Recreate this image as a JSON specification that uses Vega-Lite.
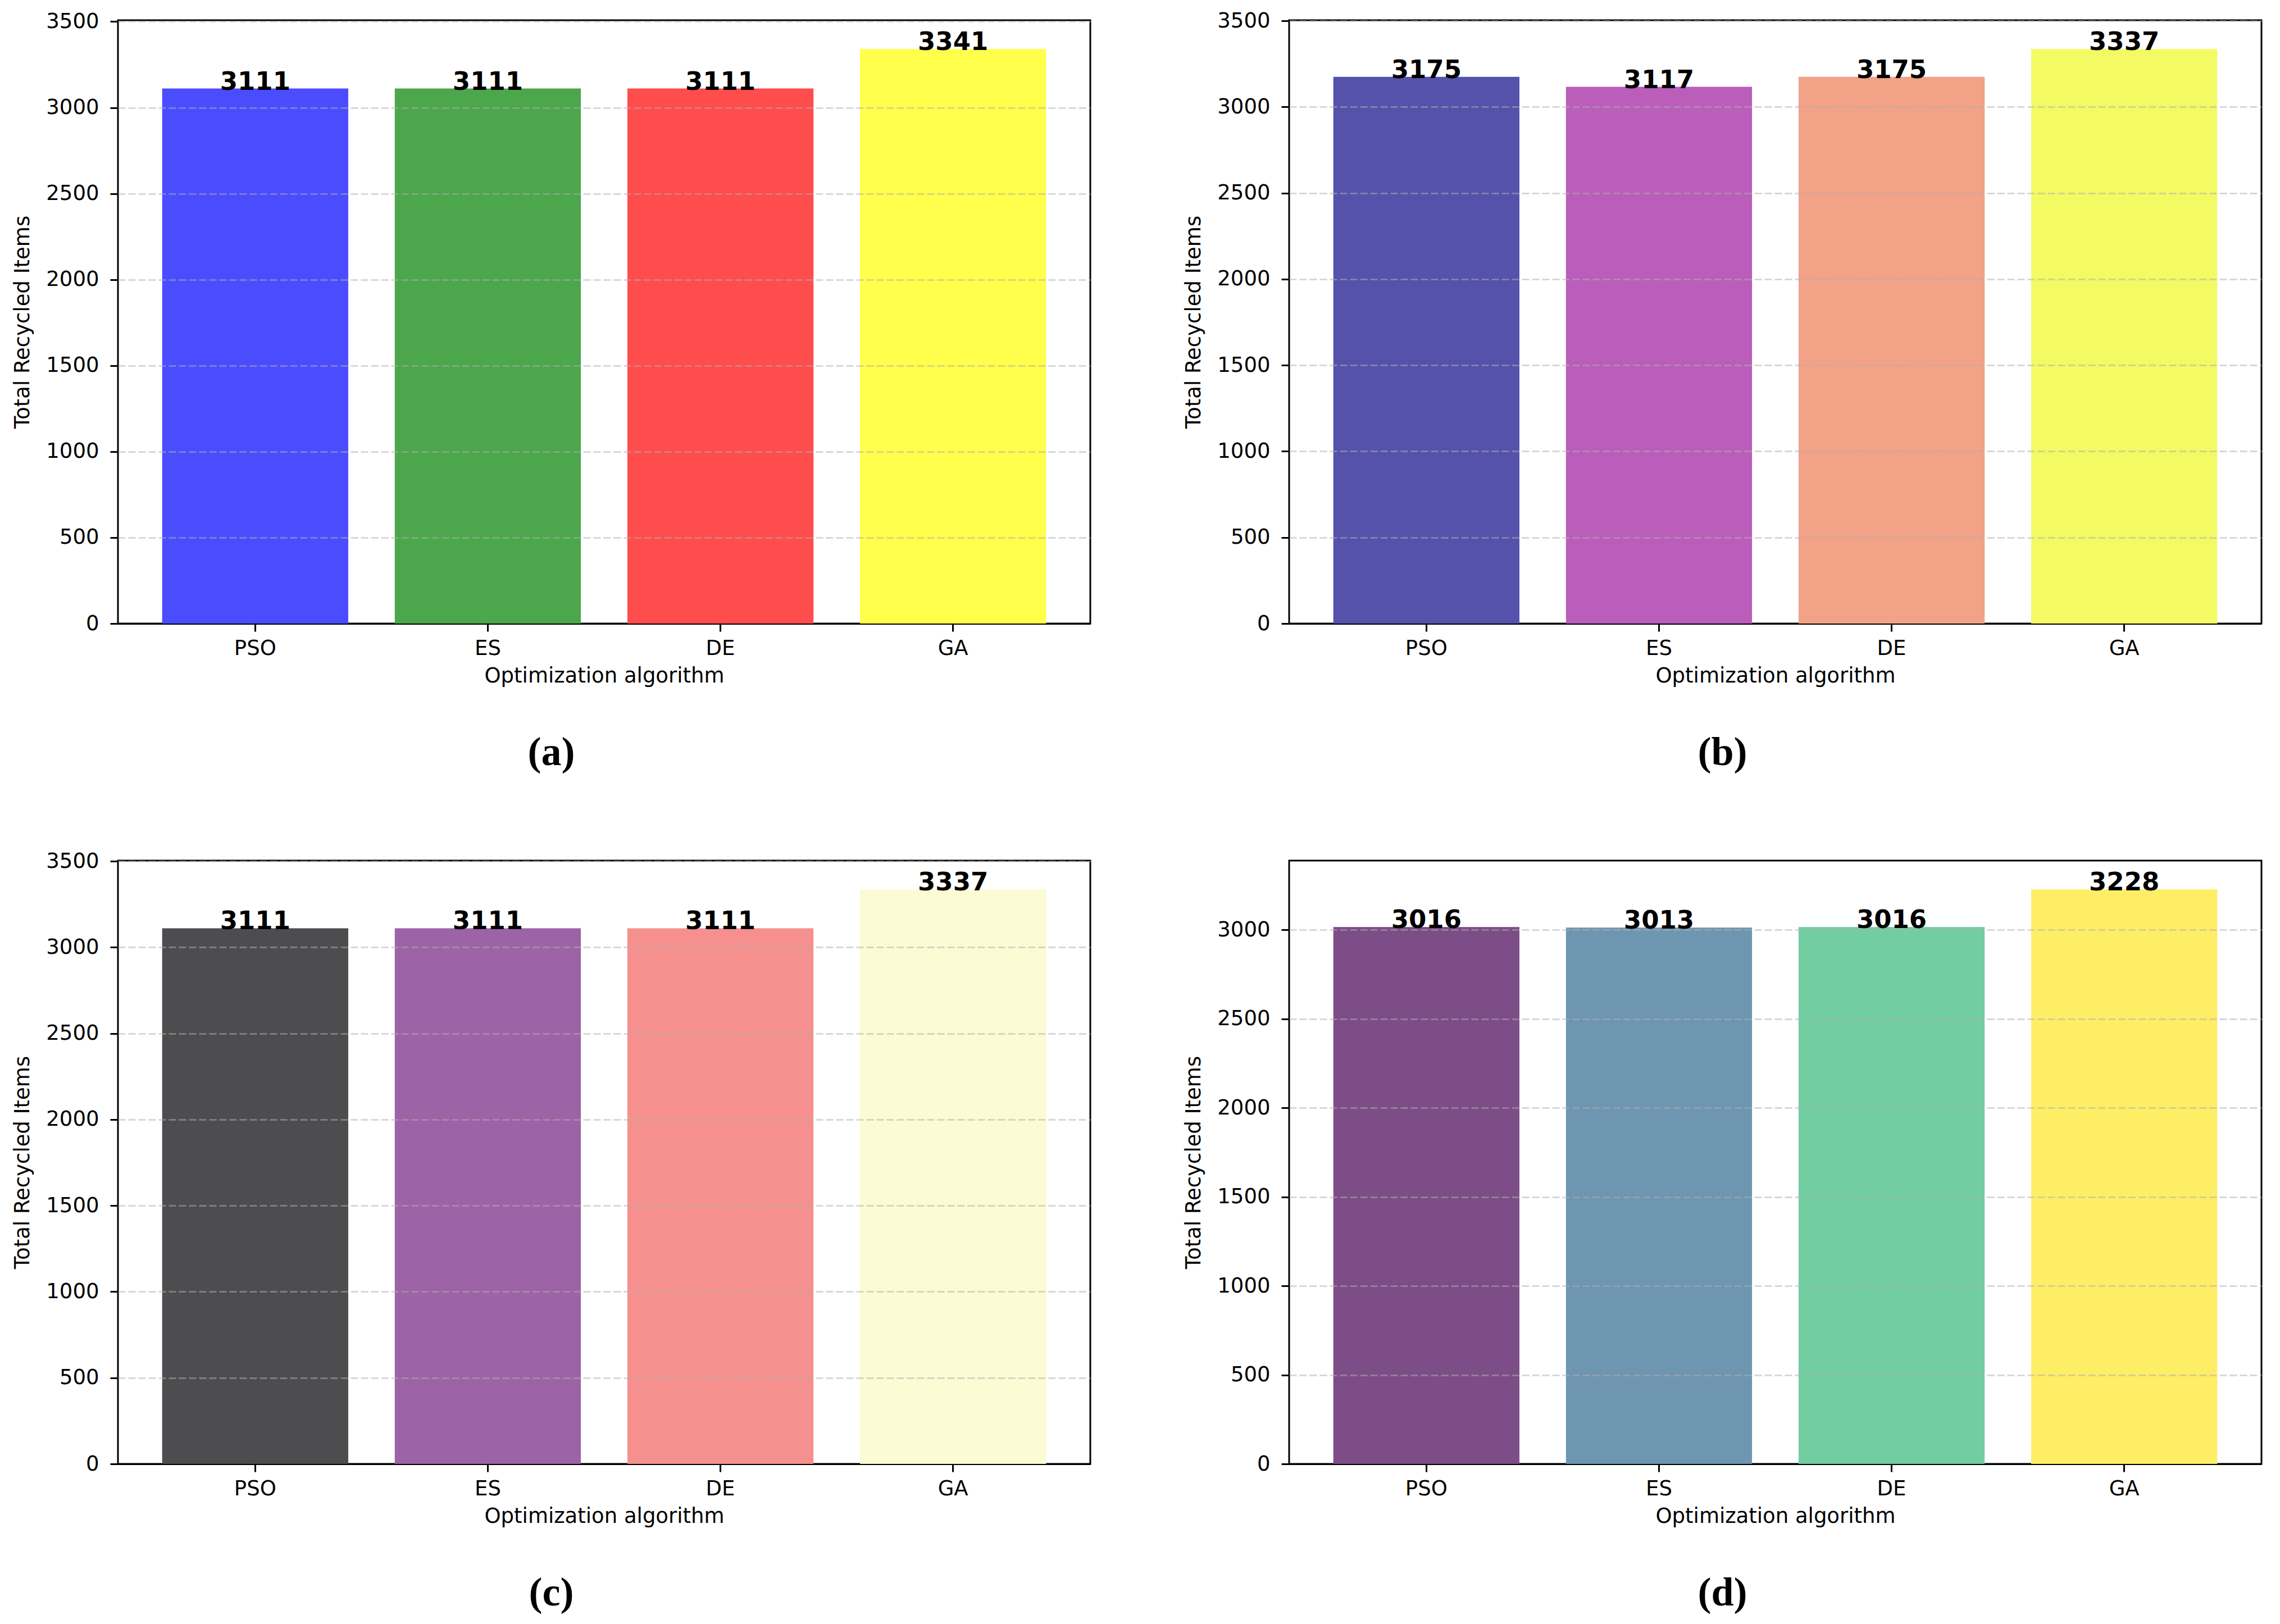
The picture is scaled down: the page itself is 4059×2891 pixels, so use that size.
{
  "$schema": "https://vega.github.io/schema/vega-lite/v6.json",
  "padding": {"left": 20, "top": 16, "right": 20, "bottom": 10},
  "background": "white",
  "datasets": {
    "a": [
      {"algorithm": "PSO", "total": 3111},
      {"algorithm": "ES", "total": 3111},
      {"algorithm": "DE", "total": 3111},
      {"algorithm": "GA", "total": 3341}
    ],
    "b": [
      {"algorithm": "PSO", "total": 3175},
      {"algorithm": "ES", "total": 3117},
      {"algorithm": "DE", "total": 3175},
      {"algorithm": "GA", "total": 3337}
    ],
    "c": [
      {"algorithm": "PSO", "total": 3111},
      {"algorithm": "ES", "total": 3111},
      {"algorithm": "DE", "total": 3111},
      {"algorithm": "GA", "total": 3337}
    ],
    "d": [
      {"algorithm": "PSO", "total": 3016},
      {"algorithm": "ES", "total": 3013},
      {"algorithm": "DE", "total": 3016},
      {"algorithm": "GA", "total": 3228}
    ]
  },
  "columns": 2,
  "bounds": "flush",
  "spacing": {"row": 422, "column": 354},
  "resolve": {"scale": {"x": "independent", "y": "independent", "color": "independent"}},
  "concat": [
    {
      "title": {"text": "(a)", "orient": "bottom", "frame": "bounds", "offset": 84},
      "width": 1731,
      "height": 1074,
      "data": {"name": "a"},
      "encoding": {
        "x": {"field": "algorithm", "type": "nominal", "sort": null,
              "scale": {"paddingInner": 0.2, "paddingOuter": 0.19},
              "axis": {"title": "Optimization algorithm", "labelAngle": 0}},
        "y": {"field": "total", "type": "quantitative",
              "scale": {"domain": [0, 3508.05], "nice": false, "zero": true},
              "axis": {"title": "Total Recycled Items", "format": "d", "values": [0, 500, 1000, 1500, 2000, 2500, 3000, 3500], "grid": true, "zindex": 1}}
      },
      "layer": [
        {"mark": {"type": "bar"},
         "encoding": {"color": {"field": "algorithm", "type": "nominal", "sort": null, "legend": null,
           "scale": {"domain": ["PSO", "ES", "DE", "GA"], "range": ["#4c4cff", "#4ca64c", "#ff4c4c", "#ffff4c"]}}}},
        {"mark": {"type": "text", "baseline": "alphabetic", "dy": 2, "fontSize": 45, "fontWeight": "bold", "font": "DejaVu Sans", "color": "black"},
         "encoding": {"text": {"field": "total", "type": "quantitative", "format": "d"}}}
      ]
    },
    {
      "title": {"text": "(b)", "orient": "bottom", "frame": "bounds", "offset": 84},
      "width": 1731,
      "height": 1074,
      "data": {"name": "b"},
      "encoding": {
        "x": {"field": "algorithm", "type": "nominal", "sort": null,
              "scale": {"paddingInner": 0.2, "paddingOuter": 0.19},
              "axis": {"title": "Optimization algorithm", "labelAngle": 0}},
        "y": {"field": "total", "type": "quantitative",
              "scale": {"domain": [0, 3503.85], "nice": false, "zero": true},
              "axis": {"title": "Total Recycled Items", "format": "d", "values": [0, 500, 1000, 1500, 2000, 2500, 3000, 3500], "grid": true, "zindex": 1}}
      },
      "layer": [
        {"mark": {"type": "bar"},
         "encoding": {"color": {"field": "algorithm", "type": "nominal", "sort": null, "legend": null,
           "scale": {"domain": ["PSO", "ES", "DE", "GA"], "range": ["#5552ab", "#ba5dbb", "#f2a287", "#f4fa64"]}}}},
        {"mark": {"type": "text", "baseline": "alphabetic", "dy": 2, "fontSize": 45, "fontWeight": "bold", "font": "DejaVu Sans", "color": "black"},
         "encoding": {"text": {"field": "total", "type": "quantitative", "format": "d"}}}
      ]
    },
    {
      "title": {"text": "(c)", "orient": "bottom", "frame": "bounds", "offset": 84},
      "width": 1731,
      "height": 1074,
      "data": {"name": "c"},
      "encoding": {
        "x": {"field": "algorithm", "type": "nominal", "sort": null,
              "scale": {"paddingInner": 0.2, "paddingOuter": 0.19},
              "axis": {"title": "Optimization algorithm", "labelAngle": 0}},
        "y": {"field": "total", "type": "quantitative",
              "scale": {"domain": [0, 3503.85], "nice": false, "zero": true},
              "axis": {"title": "Total Recycled Items", "format": "d", "values": [0, 500, 1000, 1500, 2000, 2500, 3000, 3500], "grid": true, "zindex": 1}}
      },
      "layer": [
        {"mark": {"type": "bar"},
         "encoding": {"color": {"field": "algorithm", "type": "nominal", "sort": null, "legend": null,
           "scale": {"domain": ["PSO", "ES", "DE", "GA"], "range": ["#4d4d4f", "#9c63a6", "#f5908e", "#fbfcd3"]}}}},
        {"mark": {"type": "text", "baseline": "alphabetic", "dy": 2, "fontSize": 45, "fontWeight": "bold", "font": "DejaVu Sans", "color": "black"},
         "encoding": {"text": {"field": "total", "type": "quantitative", "format": "d"}}}
      ]
    },
    {
      "title": {"text": "(d)", "orient": "bottom", "frame": "bounds", "offset": 84},
      "width": 1731,
      "height": 1074,
      "data": {"name": "d"},
      "encoding": {
        "x": {"field": "algorithm", "type": "nominal", "sort": null,
              "scale": {"paddingInner": 0.2, "paddingOuter": 0.19},
              "axis": {"title": "Optimization algorithm", "labelAngle": 0}},
        "y": {"field": "total", "type": "quantitative",
              "scale": {"domain": [0, 3389.4], "nice": false, "zero": true},
              "axis": {"title": "Total Recycled Items", "format": "d", "values": [0, 500, 1000, 1500, 2000, 2500, 3000], "grid": true, "zindex": 1}}
      },
      "layer": [
        {"mark": {"type": "bar"},
         "encoding": {"color": {"field": "algorithm", "type": "nominal", "sort": null, "legend": null,
           "scale": {"domain": ["PSO", "ES", "DE", "GA"], "range": ["#7c4d87", "#6f96b0", "#72cda1", "#feee66"]}}}},
        {"mark": {"type": "text", "baseline": "alphabetic", "dy": 2, "fontSize": 45, "fontWeight": "bold", "font": "DejaVu Sans", "color": "black"},
         "encoding": {"text": {"field": "total", "type": "quantitative", "format": "d"}}}
      ]
    }
  ],
  "config": {
    "font": "DejaVu Sans",
    "view": {"stroke": "black", "strokeWidth": 3},
    "axis": {
      "labelFont": "DejaVu Sans", "labelFontSize": 37, "labelColor": "black",
      "titleFont": "DejaVu Sans", "titleFontSize": 37, "titleFontWeight": "normal", "titleColor": "black",
      "tickColor": "black", "tickWidth": 3, "tickSize": 14,
      "domain": false,
      "gridColor": "#b0b0b0", "gridDash": [13, 5], "gridWidth": 3
    },
    "axisX": {"grid": false, "domain": true, "domainColor": "black", "domainWidth": 3, "zindex": 1, "labelPadding": 12, "titlePadding": 13},
    "axisY": {"labelPadding": 20, "titlePadding": 22,
      "gridOpacity": {"condition": {"test": "datum.value === 0", "value": 0}, "value": 0.7}},
    "title": {"font": "Liberation Serif", "fontSize": 72, "fontWeight": "bold", "color": "black"}
  }
}
